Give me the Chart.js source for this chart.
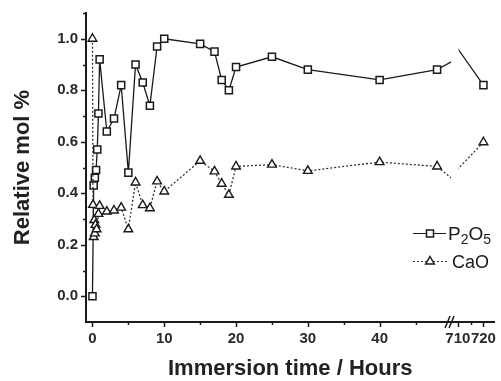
<!DOCTYPE html>
<html>
<head>
<meta charset="utf-8">
<script src="https://cdn.jsdelivr.net/npm/chart.js@4/dist/chart.umd.min.js"></script>
<style>
  html, body { margin: 0; padding: 0; background: #fff; }
</style>
</head>
<body>
<canvas id="grafico" width="501" height="381"></canvas>
<script>
// valores (horas de inmersion, mol % relativo)
const horasP2O5 = [0, 0.17, 0.33, 0.5, 0.67, 0.83, 1, 2, 3, 4, 5, 6, 7, 8, 9, 10, 15, 17, 18, 19, 20, 25, 30, 40, 48, 50, 709, 720];
const p2o5 = [0.0, 0.43, 0.46, 0.49, 0.57, 0.71, 0.92, 0.64, 0.69, 0.82, 0.48, 0.90, 0.83, 0.74, 0.97, 1.0, 0.98, 0.95, 0.84, 0.80, 0.89, 0.93, 0.88, 0.84, 0.88, 0.91, 0.975, 0.82];
const horasCaO = [0, 0.08, 0.17, 0.25, 0.33, 0.42, 0.58, 0.83, 1, 2, 3, 4, 5, 6, 7, 8, 9, 10, 15, 17, 18, 19, 20, 25, 30, 40, 48, 50, 709, 720];
const cao = [1.0, 0.355, 0.23, 0.296, 0.244, 0.277, 0.26, 0.32, 0.351, 0.329, 0.333, 0.344, 0.26, 0.442, 0.354, 0.342, 0.446, 0.407, 0.526, 0.485, 0.437, 0.394, 0.504, 0.511, 0.487, 0.521, 0.504, 0.459, 0.484, 0.598];

const ticksX = [0, 10, 20, 30, 40, 710, 720];
const menoresX = [5, 15, 25, 35, 45, 715];
const ticksY = [0, 0.2, 0.4, 0.6, 0.8, 1.0];
const menoresY = [0.1, 0.3, 0.5, 0.7, 0.9, 1.1];

// eje x con corte: 0-50 h normal, 700-720 h comprimido
function aEje(h) {
  return h <= 60 ? h : 50.9 + (h - 710) * 0.356;
}
const corteIni = 49.95, corteFin = 51.0;
const enCorte = c => c.raw && c.raw.x > corteIni && c.raw.x < corteFin;

const fuente = '"Liberation Sans", Arial, sans-serif';
const negro = '#1a1a1a';

// recorta las lineas en la zona del corte
const recorte = {
  id: 'recorte',
  beforeDatasetsDraw(chart) {
    const {ctx, chartArea: a, scales: {x}} = chart;
    const x1 = x.getPixelForValue(corteIni), x2 = x.getPixelForValue(corteFin);
    ctx.save();
    ctx.beginPath();
    ctx.rect(a.left - 10, a.top - 10, x1 - a.left + 10, a.height + 20);
    ctx.rect(x2, a.top - 10, a.right - x2 + 10, a.height + 20);
    ctx.clip();
  },
  afterDatasetsDraw(chart) {
    chart.ctx.restore();
  }
};

// marcas de los ejes, corte y leyenda
const extras = {
  id: 'extras',
  afterDraw(chart) {
    const {ctx, chartArea: a, scales: {x, y}} = chart;
    ctx.save();
    ctx.strokeStyle = negro;
    ctx.lineWidth = 1.5;
    ctx.beginPath();
    ticksY.forEach(v => { const p = Math.round(y.getPixelForValue(v)) + 0.5; ctx.moveTo(a.left, p); ctx.lineTo(a.left - 5, p); });
    menoresY.forEach(v => { const p = Math.round(y.getPixelForValue(v)) + 0.5; ctx.moveTo(a.left, p); ctx.lineTo(a.left - 3, p); });
    ticksX.forEach(h => { const p = Math.round(x.getPixelForValue(aEje(h))) + 0.5; ctx.moveTo(p, a.bottom); ctx.lineTo(p, a.bottom + 5); });
    menoresX.forEach(h => { const p = Math.round(x.getPixelForValue(aEje(h))) + 0.5; ctx.moveTo(p, a.bottom); ctx.lineTo(p, a.bottom + 3); });
    ctx.stroke();

    // simbolo de corte
    const xc = x.getPixelForValue(corteIni);
    ctx.beginPath();
    ctx.moveTo(xc - 6, a.bottom + 6); ctx.lineTo(xc - 1, a.bottom - 6);
    ctx.moveTo(xc - 2, a.bottom + 6); ctx.lineTo(xc + 3, a.bottom - 6);
    ctx.stroke();

    // leyenda
    ctx.lineWidth = 1.2;
    ctx.beginPath();
    ctx.moveTo(413, 233.5); ctx.lineTo(446, 233.5);
    ctx.stroke();
    ctx.setLineDash([2, 2]);
    ctx.strokeStyle = '#333';
    ctx.beginPath();
    ctx.moveTo(413, 261.5); ctx.lineTo(447, 261.5);
    ctx.stroke();
    ctx.setLineDash([]);
    ctx.strokeStyle = negro;
    ctx.lineWidth = 1.5;
    ctx.fillStyle = '#fff';
    ctx.fillRect(426.5, 230, 7, 7);
    ctx.strokeRect(426.5, 230, 7, 7);
    ctx.beginPath();
    ctx.moveTo(430, 256.5); ctx.lineTo(434.3, 264); ctx.lineTo(425.7, 264); ctx.closePath();
    ctx.fill(); ctx.stroke();

    ctx.fillStyle = negro;
    ctx.textBaseline = 'alphabetic';
    ctx.textAlign = 'left';
    let px = 448;
    [['P', 19, 240], ['2', 14, 244], ['O', 19, 240], ['5', 14, 244]].forEach(([t, s, b]) => {
      ctx.font = s + 'px ' + fuente;
      ctx.fillText(t, px, b);
      px += ctx.measureText(t).width;
    });
    ctx.font = '18px ' + fuente;
    ctx.fillText('CaO', 452, 268);
    ctx.restore();
  }
};

const radio = c => enCorte(c) ? 0 : 5;

new Chart(document.getElementById('grafico').getContext('2d'), {
  type: 'line',
  data: {
    datasets: [{
      label: 'CaO',
      data: horasCaO.map((h, i) => ({x: aEje(h), y: cao[i]})),
      borderColor: '#333',
      borderWidth: 1.3,
      borderDash: [2, 2],
      pointStyle: 'triangle',
      pointRadius: radio,
      pointBorderWidth: 1.4,
      pointBorderColor: negro,
      pointBackgroundColor: '#fff',
      tension: 0
    }, {
      label: 'P2O5',
      data: horasP2O5.map((h, i) => ({x: aEje(h), y: p2o5[i]})),
      borderColor: negro,
      borderWidth: 1.3,
      pointStyle: 'rect',
      pointRadius: radio,
      pointBorderWidth: 1.5,
      pointBorderColor: negro,
      pointBackgroundColor: '#fff',
      tension: 0
    }]
  },
  options: {
    responsive: false,
    animation: false,
    devicePixelRatio: 1,
    layout: { padding: { top: 13, right: 0, left: 0, bottom: 0 } },
    plugins: { legend: { display: false }, tooltip: { enabled: false } },
    scales: {
      x: {
        type: 'linear',
        min: -0.9,
        max: 56,
        afterFit: s => { s.height = 59; s.paddingLeft = 0; s.paddingRight = 0; },
        afterBuildTicks: s => { s.ticks = ticksX.map(h => ({value: aEje(h)})); },
        ticks: {
          callback: (v, i) => String(ticksX[i]),
          autoSkip: false,
          maxRotation: 0,
          padding: 8,
          color: '#2a2a2a',
          font: { family: fuente, size: 15, weight: 'bold' }
        },
        grid: { display: false, drawTicks: false },
        border: { display: true, color: negro, width: 2 },
        title: {
          display: true,
          text: 'Immersion time / Hours',
          color: '#222',
          font: { family: fuente, size: 22, weight: 'bold', lineHeight: 1 },
          padding: { top: 0, bottom: 1 }
        }
      },
      y: {
        type: 'linear',
        min: -0.1,
        max: 1.1,
        afterFit: s => { s.width = 86; s.paddingTop = 0; s.paddingBottom = 0; },
        afterBuildTicks: s => { s.ticks = ticksY.map(v => ({value: v})); },
        ticks: {
          callback: v => v.toFixed(1),
          padding: 8,
          color: '#2a2a2a',
          font: { family: fuente, size: 15, weight: 'bold' }
        },
        grid: { display: false, drawTicks: false },
        border: { display: true, color: negro, width: 2 },
        title: {
          display: true,
          text: 'Relative mol %',
          color: '#222',
          font: { family: fuente, size: 22, weight: 'bold', lineHeight: 1 },
          padding: { top: 12, bottom: 0 }
        }
      }
    }
  },
  plugins: [recorte, extras]
});
</script>
</body>
</html>
